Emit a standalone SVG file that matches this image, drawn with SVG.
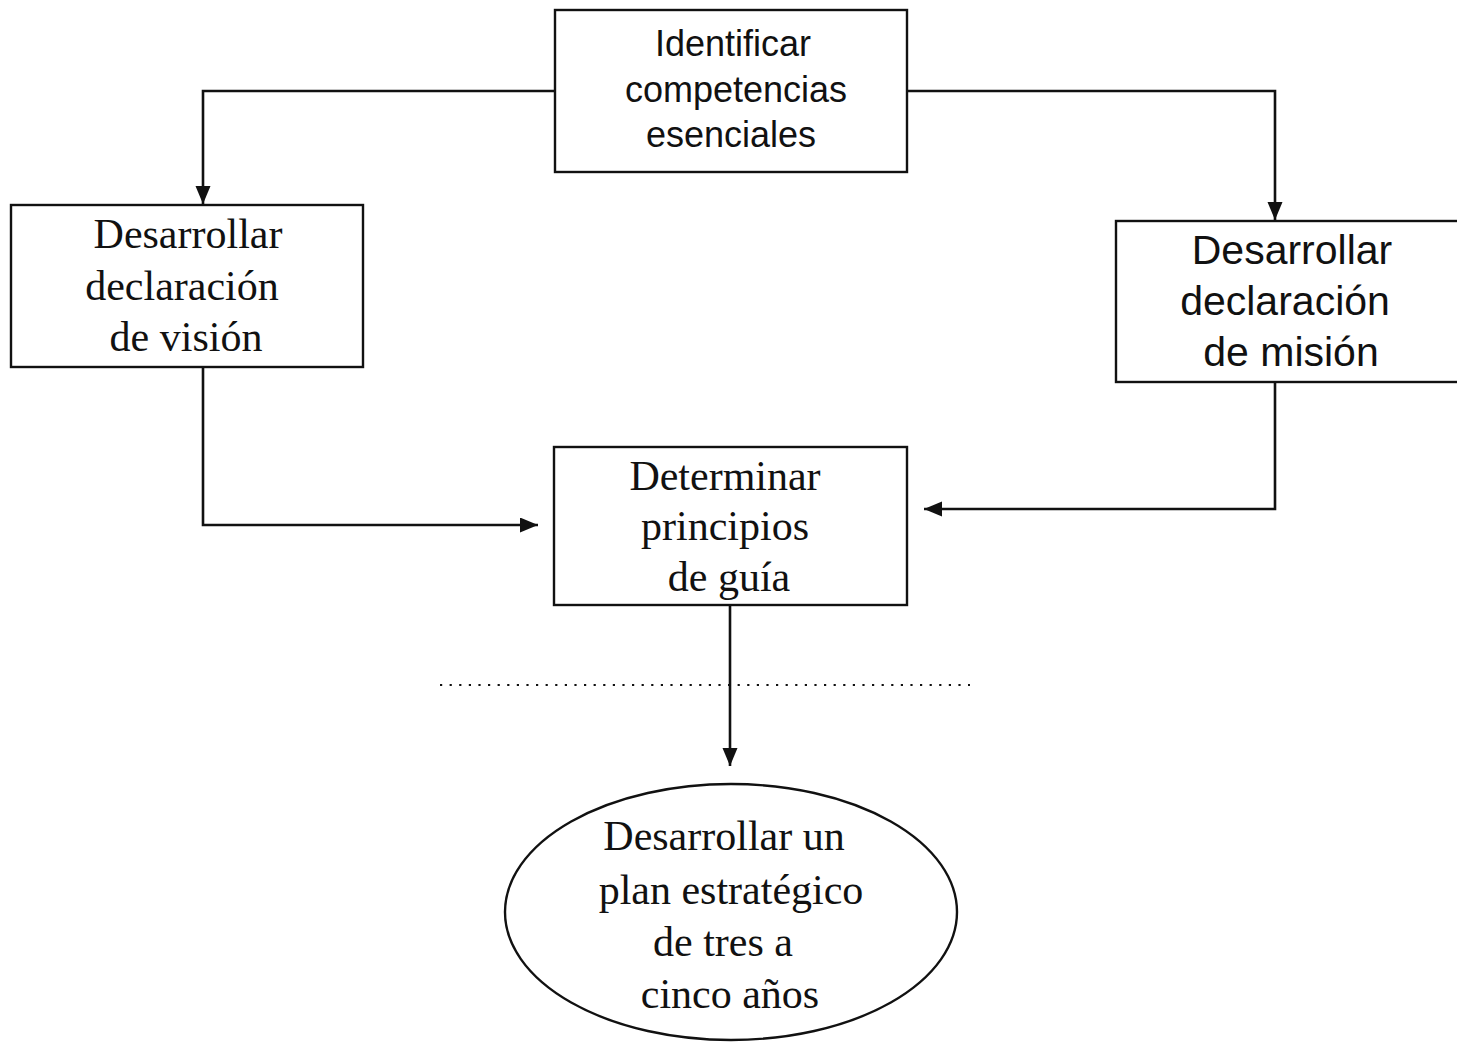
<svg xmlns="http://www.w3.org/2000/svg" width="1457" height="1042" viewBox="0 0 1457 1042">
  <style>
    .box { fill: #fff; stroke: #111; stroke-width: 2.4; }
    .wire { fill: none; stroke: #111; stroke-width: 2.6; }
    .sans { font-family: "Liberation Sans", Arial, sans-serif; fill: #111; text-anchor: middle; }
    .serif { font-family: "Liberation Serif", "Times New Roman", serif; font-size: 42px; fill: #111; text-anchor: middle; }
    .dots { fill: none; stroke: #111; stroke-width: 2.2; stroke-dasharray: 2.2 7.4; }
  </style>
  <defs>
    <marker id="arrow" markerUnits="userSpaceOnUse" markerWidth="20" markerHeight="16" refX="18" refY="7.5" orient="auto">
      <path d="M0,0 L18,7.5 L0,15 Z" fill="#111"/>
    </marker>
  </defs>
  <rect width="1457" height="1042" fill="#fff"/>

  <g id="connectors">
    <path class="wire" d="M555,91 H203 V204" marker-end="url(#arrow)"/>
    <path class="wire" d="M907,91 H1275 V220" marker-end="url(#arrow)"/>
    <path class="wire" d="M203,367 V525 H538" marker-end="url(#arrow)"/>
    <path class="wire" d="M1275,382 V509 H924" marker-end="url(#arrow)"/>
    <path class="wire" d="M730,605 V766" marker-end="url(#arrow)"/>
    <line class="dots" x1="440" y1="685" x2="970" y2="685"/>
  </g>

  <g id="competencias">
    <rect class="box" x="555" y="10" width="352" height="162"/>
    <text class="sans" font-size="36" x="733" y="56">Identificar</text>
    <text class="sans" font-size="36" x="736" y="102">competencias</text>
    <text class="sans" font-size="36" x="731" y="147">esenciales</text>
  </g>

  <g id="vision">
    <rect class="box" x="11" y="205" width="352" height="162"/>
    <text class="serif" x="188" y="248">Desarrollar</text>
    <text class="serif" x="182" y="300">declaración</text>
    <text class="serif" x="186" y="351">de visión</text>
  </g>

  <g id="mision">
    <rect class="box" x="1116" y="221" width="346" height="161"/>
    <text class="sans" font-size="41" x="1292" y="264">Desarrollar</text>
    <text class="sans" font-size="41" x="1285" y="315">declaración</text>
    <text class="sans" font-size="41" x="1291" y="366">de misión</text>
  </g>

  <g id="principios">
    <rect class="box" x="554" y="447" width="353" height="158"/>
    <text class="serif" x="725" y="490">Determinar</text>
    <text class="serif" x="725" y="540">principios</text>
    <text class="serif" x="729" y="591">de guía</text>
  </g>

  <g id="plan">
    <ellipse class="box" cx="731" cy="912" rx="226" ry="128"/>
    <text class="serif" x="724" y="850">Desarrollar un</text>
    <text class="serif" x="731" y="904">plan estratégico</text>
    <text class="serif" x="723" y="956">de tres a</text>
    <text class="serif" x="730" y="1008">cinco años</text>
  </g>
</svg>
